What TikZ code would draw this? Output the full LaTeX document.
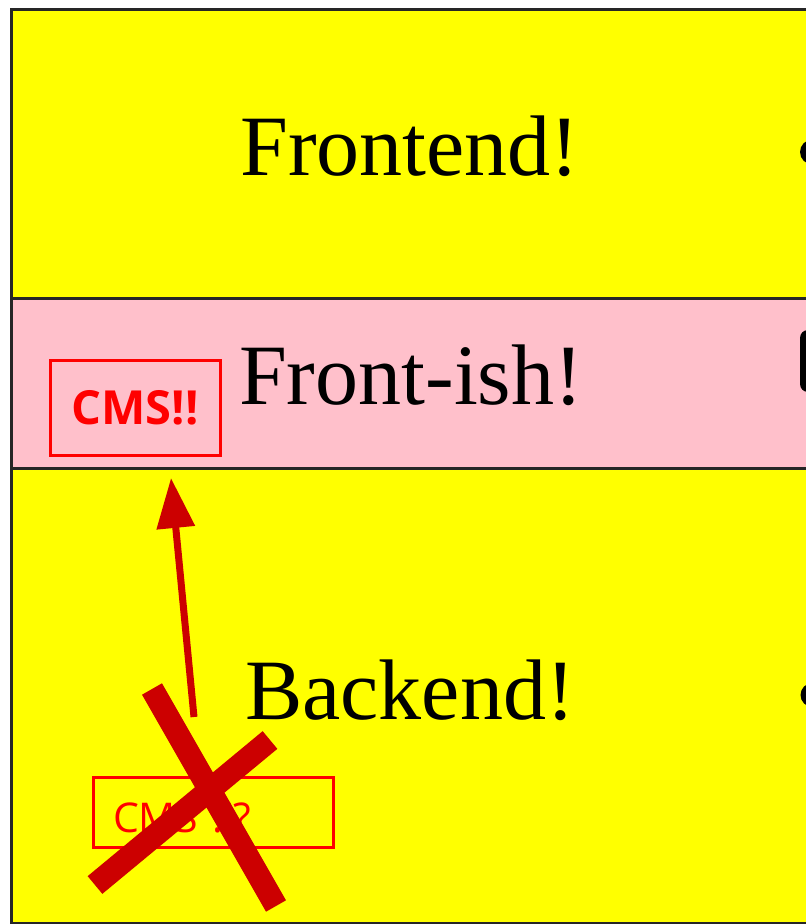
\documentclass[tikz,border=0pt]{standalone}
\usepackage{fontspec}
\setmainfont{Liberation Serif}
\newfontfamily\cmsfont{Open Sans}
\usepackage{tikz}
\usetikzlibrary{arrows.meta,positioning}
\definecolor{bandyellow}{RGB}{255,255,0}
\definecolor{bandpink}{RGB}{255,192,203}
\definecolor{crossred}{RGB}{204,0,0}

\begin{document}
\begin{tikzpicture}[x=1pt,y=-1pt,
		band node/.style={rectangle, draw=black!85, line width=2.5pt, anchor=north west, inner sep=0pt, minimum width=840pt},
		title node/.style={font=\fontsize{86}{86}\selectfont, inner sep=0pt, anchor=base},
		cms node/.style={rectangle, draw=red, line width=3pt, text=red},
		arrow line/.style={draw=crossred, line width=7pt, -{Triangle[length=50pt,width=37pt]}},
		cross line/.style={draw=crossred, line width=23pt, line cap=butt}]

	\clip (0,0) rectangle (806,924);
	\fill[white] (0,0) rectangle (806,924);

	% the three bands
	\node[band node, fill=bandyellow, minimum height=289pt] (top) at (10,8) {};
	\node[band node, fill=bandpink, minimum height=170pt] (mid) at (10,297) {};
	\node[band node, fill=bandyellow, minimum height=455pt] (bot) at (10,467) {};

	\node[title node] (front) at (410,175) {Frontend!};
	\node[title node] (frontish) at (411,404) {Front-ish!};
	\node[title node] (back) at (410,719) {Backend!};

	% cut-off marks on the right
	\fill[black] (812.5,152) circle (12.5pt);
	\fill[black, rounded corners=8pt] (800,330) rectangle (840,392);
	\fill[black] (812.5,695) circle (12pt);

	\node[cms node, minimum width=170pt, minimum height=95pt, font=\cmsfont\bfseries\fontsize{47}{47}\selectfont] (cms) at (135,407.5) {CMS!!};
	\node[cms node, minimum width=240pt, minimum height=70pt, text width=200pt, inner xsep=20pt, align=left,
		text height=40pt, text depth=0pt, font=\cmsfont\fontsize{41}{41}\selectfont] (oldcms) at (213,812) {CMS !!?};

	\coordinate (arrstart) at (194,717);
	\coordinate (arrtip) at (171,478);
	\path[arrow line] (arrstart) -- (arrtip);

	\coordinate (c1) at (152,689);
	\coordinate (c2) at (276,906);
	\coordinate (c3) at (270,740);
	\coordinate (c4) at (95,885);
	\path[cross line] (c1) -- (c2);
	\path[cross line] (c3) -- (c4);
\end{tikzpicture}
\end{document}
